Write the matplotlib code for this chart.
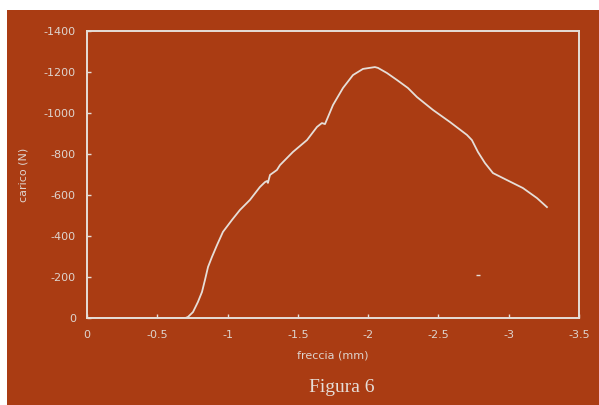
import numpy as np
import matplotlib.pyplot as plt
from matplotlib.patches import Rectangle

# freccia (mm) and carico (N)
freccia = [0, -0.30, -0.60, -0.700, -0.718, -0.754, -0.789, -0.818, -0.839, -0.861,
           -0.889, -0.925, -0.967, -1.031, -1.088, -1.159, -1.230, -1.266, -1.280,
           -1.287, -1.302, -1.351, -1.373, -1.465, -1.565, -1.636, -1.671, -1.693,
           -1.714, -1.750, -1.821, -1.892, -1.963, -2.048, -2.070, -2.134, -2.205,
           -2.283, -2.347, -2.461, -2.582, -2.703, -2.738, -2.781, -2.831, -2.888,
           -2.987, -3.101, -3.201, -3.272]
carico = [0, 0, 0, 0, -5, -29, -78, -127, -185, -249,
          -298, -356, -420, -478, -527, -576, -639, -663, -668,
          -659, -698, -722, -746, -810, -868, -932, -951, -946,
          -980, -1039, -1122, -1185, -1215, -1224, -1220, -1195, -1161,
          -1122, -1078, -1015, -956, -893, -868, -810, -756, -707,
          -673, -634, -585, -541]

xticks = [0, -0.5, -1, -1.5, -2, -2.5, -3, -3.5]
xticklabels = ['0', '-0.5', '-1', '-1.5', '-2', '-2.5', '-3', '-3.5']
yticks = [0, -200, -400, -600, -800, -1000, -1200, -1400]
yticklabels = ['0', '-200', '-400', '-600', '-800', '-1000', '-1200', '-1400']

bg = '#AA3C13'
fg = '#E6DED8'
txt = '#DED4CE'

fig = plt.figure(figsize=(5.99, 4.05), dpi=100, facecolor='white')
fig.patches.append(Rectangle((7 / 599, 0), 1, 1 - 10 / 405, transform=fig.transFigure,
                             facecolor=bg, edgecolor='none', zorder=-10))

ax = fig.add_axes([87 / 599, 1 - 318 / 405, 492 / 599, 287 / 405])
ax.set_facecolor(bg)
ax.plot(freccia, carico, color=fg, lw=1.3, solid_joinstyle='round')
ax.plot([-2.78], [-210], marker='_', ms=3, color=fg, mew=1)  # small speck on the scan

ax.set_xlim(0, -3.5)
ax.set_ylim(0, -1400)
ax.set_xticks(xticks)
ax.set_xticklabels(xticklabels)
ax.set_yticks(yticks)
ax.set_yticklabels(yticklabels)

for s in ax.spines.values():
    s.set_color(fg)
    s.set_linewidth(1.4)
ax.tick_params(direction='in', length=3, width=1, color=fg, labelcolor=txt, labelsize=8)
ax.tick_params(axis='x', pad=9)
ax.tick_params(axis='y', pad=8)

ax.set_xlabel('freccia (mm)', color=txt, fontsize=8, labelpad=7)
ax.set_ylabel('carico (N)', color=txt, fontsize=8, labelpad=11)

fig.text(0.57, 1 - 387 / 405, 'Figura 6', color=fg, fontsize=14,
         family='Liberation Serif', ha='center', va='center')

plt.savefig('out.png', dpi=100, facecolor='white')
